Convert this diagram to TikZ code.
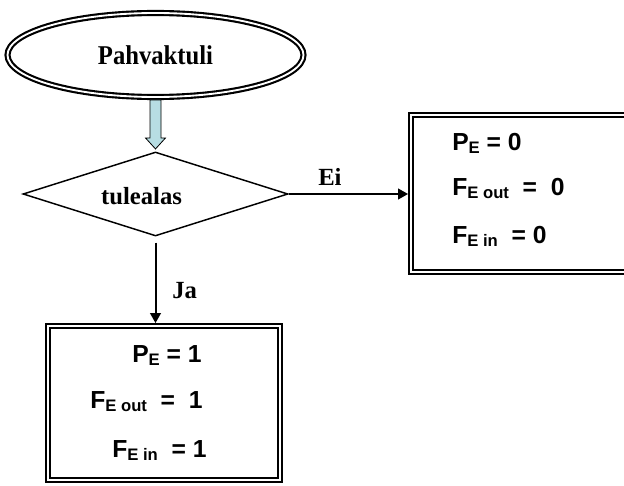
\documentclass[tikz,border=0pt]{standalone}
\usepackage{fontspec}
\setmainfont{Liberation Serif}
\setsansfont{Liberation Sans}
\usetikzlibrary{calc,arrows.meta,shapes.geometric}
\definecolor{palecyan}{RGB}{183,221,227}
\newcommand{\subE}[1]{\raisebox{-2.6pt}{\fontsize{12.5}{12.5}\selectfont #1}}
\tikzset{
	frame/.style={draw, double, line width=1.6pt, double distance=1.4pt, outer sep=2.2pt},
	lbl/.style={font=\fontsize{18.5}{20}\selectfont\bfseries, inner sep=0pt},
	val/.style={font=\sffamily\fontsize{18.5}{20}\selectfont\bfseries, anchor=base west, inner sep=0pt},
	link/.style={line width=1.5pt, -{Triangle[length=7.5pt,width=8pt]}}
}

\begin{document}
\begin{tikzpicture}[x=0.75pt,y=-0.75pt]
			%%%%% START %%%%%
			\useasboundingbox (0,0) rectangle (624,485);
			\clip (0,0) rectangle (624,485);
			
			\node[frame, ellipse, minimum width=222pt, minimum height=63pt, lbl] (start) at (155.5,55) {\scalebox{1}[1.1]{Pahvaktuli}};
			\node[draw, diamond, line width=1.1pt, aspect=3.15, inner sep=0pt, minimum width=198.75pt, minimum height=63pt] (cond) at (155.5,194) {};
			\node[lbl] (condtxt) at ($(cond)+(-14,2)$) {tulealas};
			
			\node[frame, minimum width=231.75pt, minimum height=117.75pt] (no) at (565.5,193.5) {};
			\node[frame, minimum width=174pt, minimum height=115.5pt] (yes) at (164,403) {};
			
			% blue block arrow
			\draw[fill=palecyan, line width=0.6pt] ($(start.south)+(-5.5,0)$) -- ++(0,38) -- ++(-4.5,0) -- ($(start.south)+(0,49)$)
				-- ($(start.south)+(10,38)$) -- ++(-4.5,0) -- ($(start.south)+(5.5,0)$) -- cycle;
			
			\draw[link] (cond.east) -- (cond.east -| no.west);
			\draw[link] ($(cond.south)+(0,6)$) -- (cond.south |- yes.north);
			\node[lbl, anchor=base west] (ei) at (318,185) {Ei};
			\node[lbl, anchor=base west] (ja) at (172,298) {Ja};
			
			% values, case Ei
			\node[val] (p0) at (452,150) {P\subE{E} = 0};
			\node[val] (fo0) at (452,195) {F\subE{E out}\ \ =\ \ 0};
			\node[val] (fi0) at (452,243) {F\subE{E in}\ \ = 0};
			% values, case Ja
			\node[val] (p1) at (132,362) {P\subE{E} = 1};
			\node[val] (fo1) at (90,408) {F\subE{E out}\ \ =\ \ 1};
			\node[val] (fi1) at (112,457) {F\subE{E in}\ \ = 1};
			%%%%% END %%%%%
		\end{tikzpicture}
\end{document}
